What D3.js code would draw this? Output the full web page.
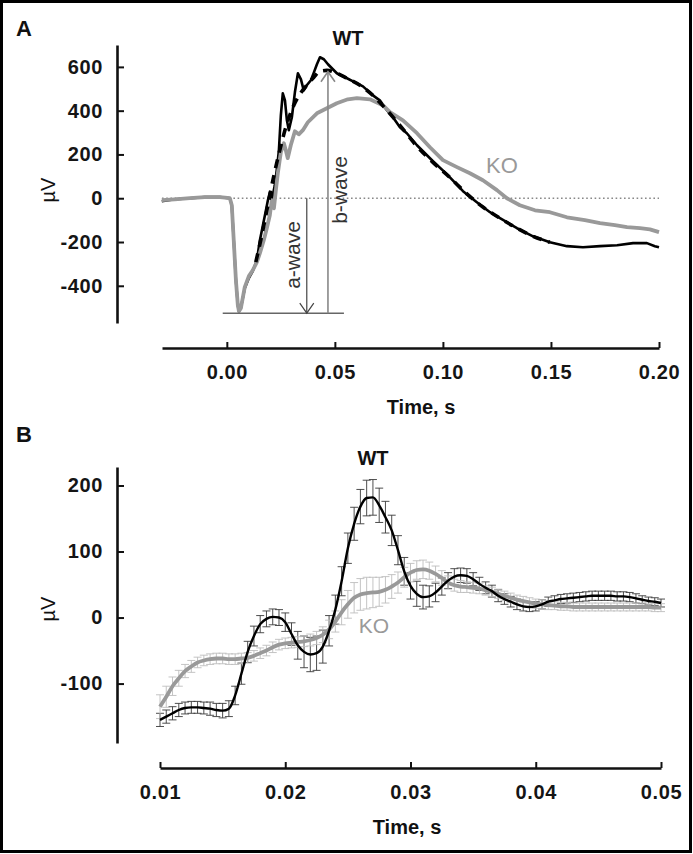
<!DOCTYPE html>
<html>
<head>
<meta charset="utf-8">
<script src="https://cdn.jsdelivr.net/npm/d3@7"></script>
<style>
body { margin: 0; background: #fff; }
svg text { font-family: "Liberation Sans", Arial, Helvetica, sans-serif; }
.axis path, .axis line { stroke: #111; }
.axis path { stroke-width: 2.6; }
.axis line { stroke-width: 2; }
.axis text { font-size: 20px; font-weight: bold; fill: #151515; letter-spacing: 0.6px; }
</style>
</head>
<body>
<div id="chart"></div>
<script>
// ---- panel A: full flash ERG (time in s, amplitude in uV)
const a_wt_time = [-0.0301,-0.0241,-0.0171,-0.0102,-0.0032,0.0014,0.0023,0.0032,0.0042,0.0051,0.0056,0.0065,0.0083,0.0102,0.0120,0.0139,0.0153,0.0167,0.0181,0.0190,0.0199,0.0208,0.0222,0.0231,0.0241,0.0250,0.0259,0.0269,0.0278,0.0287,0.0301,0.0315,0.0329,0.0343,0.0356,0.0370,0.0389,0.0403,0.0417,0.0431,0.0449,0.0468,0.0509,0.0556,0.0602,0.0630,0.0676,0.0708,0.0741,0.0769,0.0801,0.0833,0.0880,0.0954,0.1018,0.1093,0.1157,0.1218,0.1264,0.1343,0.1417,0.1495,0.1574,0.1648,0.1727,0.1806,0.1880,0.1944,0.1981,0.2000];
const a_wt_uv = [-14,-5,0,5,5,0,-32,-192,-374,-489,-516,-502,-411,-365,-333,-283,-192,-123,-55,-9,27,-9,59,128,219,379,479,447,356,311,370,484,571,543,493,516,539,575,612,644,635,612,571,548,525,511,470,447,402,370,324,297,242,169,110,32,-18,-64,-91,-137,-174,-201,-219,-224,-219,-215,-205,-205,-219,-224];

const a_ko_time = [-0.0301,-0.0241,-0.0171,-0.0102,-0.0032,0.0014,0.0023,0.0032,0.0042,0.0051,0.0056,0.0065,0.0083,0.0102,0.0120,0.0139,0.0153,0.0171,0.0185,0.0199,0.0208,0.0218,0.0227,0.0236,0.0250,0.0264,0.0273,0.0282,0.0296,0.0315,0.0333,0.0352,0.0375,0.0417,0.0463,0.0509,0.0560,0.0602,0.0662,0.0722,0.0755,0.0815,0.0880,0.0940,0.1000,0.1065,0.1125,0.1185,0.1250,0.1296,0.1356,0.1426,0.1495,0.1574,0.1657,0.1727,0.1796,0.1852,0.1912,0.1958,0.2000];
const a_ko_uv = [-9,-5,0,5,5,0,-32,-192,-374,-489,-516,-502,-406,-356,-329,-292,-251,-192,-137,-78,-9,-46,37,114,210,251,219,183,242,306,292,311,347,388,411,434,452,457,452,425,393,356,297,233,174,142,114,82,37,0,-32,-55,-64,-87,-100,-114,-123,-132,-137,-142,-155];

// WT trace without the oscillations (drawn dashed)
const a_fit_time = [0.0134,0.0162,0.0190,0.0218,0.0245,0.0273,0.0306,0.0338,0.0370,0.0403,0.0431,0.0463,0.0509,0.0556,0.0616,0.0676,0.0741,0.0801,0.0880,0.0954,0.1032,0.1111,0.1185,0.1264,0.1343,0.1417,0.1495];
const a_fit_uv = [-292,-169,-32,105,219,324,416,475,516,553,580,584,571,548,516,470,402,333,237,164,95,20,-40,-91,-137,-174,-201];

const a_x_ticks = [0, 0.05, 0.10, 0.15, 0.20];
const a_y_ticks = [-400, -200, 0, 200, 400, 600];

// a-wave / b-wave measurement marks
const a_trough_uv = -525;
const b_peak_uv = 578;
const a_arrow_t = 0.0370;
const b_arrow_t = 0.0468;
const trough_line_t = [-0.0019, 0.0542];

// ---- panel B: oscillatory potentials, mean and sem
const b_time = [0.0100,0.0105,0.0110,0.0115,0.0120,0.0125,0.0130,0.0135,0.0140,0.0145,0.0150,0.0155,0.0160,0.0165,0.0170,0.0175,0.0180,0.0185,0.0190,0.0195,0.0200,0.0205,0.0210,0.0215,0.0220,0.0225,0.0230,0.0235,0.0240,0.0245,0.0250,0.0255,0.0260,0.0265,0.0270,0.0275,0.0280,0.0285,0.0290,0.0295,0.0300,0.0305,0.0310,0.0315,0.0320,0.0325,0.0330,0.0335,0.0340,0.0345,0.0350,0.0355,0.0360,0.0365,0.0370,0.0375,0.0380,0.0385,0.0390,0.0395,0.0400,0.0405,0.0410,0.0415,0.0420,0.0425,0.0430,0.0435,0.0440,0.0445,0.0450,0.0455,0.0460,0.0465,0.0470,0.0475,0.0480,0.0485,0.0490,0.0495,0.0500];
const b_wt_mean = [-155,-150,-145,-140,-137,-136,-136,-137,-138,-140,
  -141,-138,-118,-85,-52,-28,-10,-2,1,0,
  -7,-25,-42,-52,-56,-54,-44,-20,12,55,
  105,142,168,181,182,170,152,132,102,70,
  48,36,31,32,38,47,56,62,64,63,
  58,51,45,40,33,28,24,20,17,16,
  17,20,24,26,28,29,30,31,32,33,
  33,33,33,32,32,31,29,27,25,24,
  22];
const b_wt_sem = [10,10,10,10,9,9,9,9,10,10,
  11,12,14,16,16,15,13,12,12,12,
  14,17,21,24,26,26,25,23,22,22,
  23,25,26,27,27,26,24,23,22,21,
  20,19,18,16,14,13,12,12,11,11,
  10,10,9,9,9,8,8,8,7,7,
  7,7,7,7,7,7,7,7,7,7,
  7,7,7,7,7,7,7,6,6,6,
  6];
const b_ko_mean = [-135,-120,-104,-92,-81,-74,-68,-65,-63,-62,
  -62,-63,-63,-62,-61,-58,-54,-50,-45,-41,
  -39,-38,-37,-36,-34,-31,-26,-18,-6,8,
  20,30,35,37,38,39,42,47,53,61,
  68,72,73,71,66,60,53,49,47,46,
  45,44,41,39,36,33,30,27,25,23,
  21,20,19,18,17,17,16,16,16,16,
  16,16,16,16,16,16,16,16,16,15,
  15];
const b_ko_sem = [18,16,14,12,10,9,8,8,8,8,
  8,8,8,8,8,8,8,8,8,8,
  8,8,8,8,9,10,12,14,16,19,
  21,23,24,24,23,22,20,18,16,15,
  14,14,14,13,12,11,10,9,9,8,
  8,8,7,7,7,7,7,7,7,7,
  7,7,7,6,6,6,6,6,6,6,
  6,6,6,6,6,6,6,6,6,6,
  6];
const b_x_ticks = [0.01, 0.02, 0.03, 0.04, 0.05];
const b_y_ticks = [-100, 0, 100, 200];

const wt_color = "#000";
const ko_color = "#999";

const svg = d3.select("#chart").append("svg")
  .attr("width", 693).attr("height", 854);

svg.append("rect").attr("x", 1.5).attr("y", 1.5).attr("width", 689).attr("height", 850)
  .attr("fill", "none").attr("stroke", "#000").attr("stroke-width", 3);

function draw_axes(x, y, xTicks, yTicks, xAxisY, yAxisX) {
  const xAxis = d3.axisBottom(x).tickValues(xTicks).tickFormat(d3.format(".2f"))
    .tickSizeInner(-6).tickSizeOuter(0).tickPadding(17);
  svg.append("g").attr("class", "axis").attr("transform", "translate(0," + xAxisY + ")").call(xAxis);
  const yAxis = d3.axisLeft(y).tickValues(yTicks).tickFormat(d => String(d))
    .tickSizeInner(-7).tickSizeOuter(0).tickPadding(14);
  svg.append("g").attr("class", "axis").attr("transform", "translate(" + yAxisX + ",0)").call(yAxis);
}

function add_label(txt, x, y, opts) {
  const t = svg.append("text").attr("x", x).attr("y", y).text(txt)
    .attr("font-size", opts.size).attr("font-weight", opts.weight || "normal")
    .attr("fill", opts.fill || "#111").attr("text-anchor", opts.anchor || "middle");
  if (opts.rotate) t.attr("transform", "rotate(-90," + x + "," + y + ")");
  return t;
}

// ================= panel A
const xA = d3.scaleLinear().domain([-0.03, 0.20]).range([162, 659]);
const yA = d3.scaleLinear().domain([-570, 700]).range([323, 45]);
draw_axes(xA, yA, a_x_ticks, a_y_ticks, 348, 117);

// zero line
svg.append("line").attr("x1", xA(-0.03)).attr("x2", xA(0.2)).attr("y1", yA(0)).attr("y2", yA(0))
  .attr("stroke", "#888").attr("stroke-width", 1.6).attr("stroke-dasharray", "1.6,2.6");

const lineA = d3.line().x(d => xA(d[0])).y(d => yA(d[1]));

svg.append("path").datum(d3.zip(a_wt_time, a_wt_uv)).attr("d", lineA)
  .attr("fill", "none").attr("stroke", wt_color).attr("stroke-width", 2.6).attr("stroke-linejoin", "round");
svg.append("path").datum(d3.zip(a_ko_time, a_ko_uv)).attr("d", lineA)
  .attr("fill", "none").attr("stroke", ko_color).attr("stroke-width", 3.8).attr("stroke-linejoin", "round");
svg.append("path").datum(d3.zip(a_fit_time, a_fit_uv)).attr("d", lineA.curve(d3.curveMonotoneX))
  .attr("fill", "none").attr("stroke", wt_color).attr("stroke-width", 3.6).attr("stroke-dasharray", "9,7");

// measurement marks
svg.append("line").attr("x1", xA(trough_line_t[0])).attr("x2", xA(trough_line_t[1]))
  .attr("y1", yA(a_trough_uv)).attr("y2", yA(a_trough_uv)).attr("stroke", "#666").attr("stroke-width", 1.5);
svg.append("line").attr("x1", xA(a_arrow_t)).attr("x2", xA(a_arrow_t))
  .attr("y1", yA(0)).attr("y2", yA(a_trough_uv)).attr("stroke", "#444").attr("stroke-width", 1.2);
svg.append("path").attr("d", "M" + (xA(a_arrow_t) - 7) + "," + (yA(a_trough_uv) - 10) + "L" + xA(a_arrow_t) + "," + yA(a_trough_uv) + "L" + (xA(a_arrow_t) + 7) + "," + (yA(a_trough_uv) - 10))
  .attr("fill", "none").attr("stroke", "#444").attr("stroke-width", 1.2);
svg.append("line").attr("x1", xA(b_arrow_t)).attr("x2", xA(b_arrow_t))
  .attr("y1", yA(a_trough_uv)).attr("y2", yA(b_peak_uv)).attr("stroke", "#888").attr("stroke-width", 1.6);
svg.append("path").attr("d", "M" + (xA(b_arrow_t) - 7) + "," + (yA(b_peak_uv) + 10) + "L" + xA(b_arrow_t) + "," + yA(b_peak_uv) + "L" + (xA(b_arrow_t) + 7) + "," + (yA(b_peak_uv) + 10))
  .attr("fill", "none").attr("stroke", "#888").attr("stroke-width", 1.6);

add_label("a-wave", 300, 255, {size: 21, rotate: true, fill: "#333"});
add_label("b-wave", 347, 190, {size: 21, rotate: true, fill: "#333"});
add_label("WT", 348, 45, {size: 20, weight: "bold"});
add_label("KO", 502, 173, {size: 22, fill: ko_color});
add_label("A", 16, 36, {size: 22, weight: "bold", anchor: "start"});
add_label("µV", 55, 190, {size: 20, rotate: true});
add_label("Time, s", 421, 414, {size: 20, weight: "bold"});

// ================= panel B
const xB = d3.scaleLinear().domain([0.01, 0.05]).range([160, 661]);
const yB = d3.scaleLinear().domain([-190, 228]).range([743, 467]);
draw_axes(xB, yB, b_x_ticks, b_y_ticks, 768, 117);

function error_bars(mean, sem, color, width) {
  const g = svg.append("g").attr("stroke", color).attr("stroke-width", width).attr("fill", "none");
  b_time.forEach((t, i) => {
    const x = xB(t), lo = yB(mean[i] - sem[i]), hi = yB(mean[i] + sem[i]);
    g.append("line").attr("x1", x).attr("x2", x).attr("y1", lo).attr("y2", hi);
    g.append("line").attr("x1", x - 4).attr("x2", x + 4).attr("y1", lo).attr("y2", lo);
    g.append("line").attr("x1", x - 4).attr("x2", x + 4).attr("y1", hi).attr("y2", hi);
  });
}
error_bars(b_wt_mean, b_wt_sem, "#3a3a3a", 0.9);
error_bars(b_ko_mean, b_ko_sem, "#bdbdbd", 0.9);

const lineB = d3.line().x(d => xB(d[0])).y(d => yB(d[1])).curve(d3.curveMonotoneX);
svg.append("path").datum(d3.zip(b_time, b_ko_mean)).attr("d", lineB)
  .attr("fill", "none").attr("stroke", ko_color).attr("stroke-width", 3.8);
svg.append("path").datum(d3.zip(b_time, b_wt_mean)).attr("d", lineB)
  .attr("fill", "none").attr("stroke", wt_color).attr("stroke-width", 2.4);

add_label("WT", 373, 465, {size: 20, weight: "bold"});
add_label("KO", 374, 633, {size: 21, fill: ko_color});
add_label("B", 16, 442, {size: 22, weight: "bold", anchor: "start"});
add_label("µV", 55, 609, {size: 20, rotate: true});
add_label("Time, s", 407, 834, {size: 20, weight: "bold"});
</script>
</body>
</html>
